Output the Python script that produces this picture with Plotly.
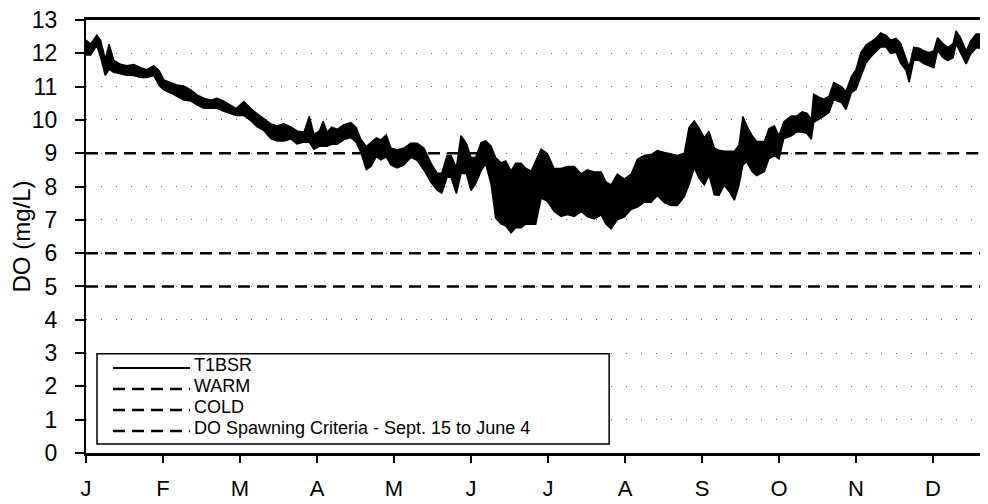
import plotly.graph_objects as go

# ---- data ----
month_labels = ["J", "F", "M", "A", "M", "J", "J", "A", "S", "O", "N", "D"]
month_ticks = list(range(12))

# sample positions in months since Jan 1
t_months = [0.00, 0.06, 0.14, 0.19, 0.25, 0.30, 0.36, 0.45, 0.53, 0.62, 0.71, 0.79, 0.88, 0.95,
            1.01, 1.10, 1.18, 1.27, 1.36, 1.44, 1.53, 1.62, 1.70, 1.79, 1.88, 1.95,
            2.05, 2.14, 2.22, 2.31, 2.40, 2.48, 2.57, 2.66, 2.74, 2.83, 2.90, 2.96,
            3.03, 3.08, 3.13, 3.19, 3.26, 3.35, 3.44, 3.51, 3.57, 3.64, 3.70, 3.77, 3.83, 3.90, 3.96,
            4.04, 4.13, 4.22, 4.30, 4.39, 4.48, 4.56, 4.62, 4.69, 4.74, 4.81, 4.87, 4.94,
            5.00, 5.06, 5.13, 5.19, 5.26, 5.32, 5.39, 5.45, 5.52, 5.58, 5.65, 5.71, 5.78, 5.84, 5.91, 5.99,
            6.08, 6.17, 6.25, 6.34, 6.43, 6.51, 6.60, 6.69, 6.75, 6.82, 6.90, 6.99,
            7.08, 7.16, 7.25, 7.34, 7.42, 7.51, 7.60, 7.68, 7.77, 7.83, 7.90, 7.96,
            8.03, 8.09, 8.16, 8.22, 8.29, 8.35, 8.42, 8.48, 8.53, 8.58, 8.65, 8.71, 8.81, 8.87, 8.94,
            9.00, 9.06, 9.16, 9.23, 9.30, 9.36, 9.42, 9.45, 9.52, 9.58, 9.65, 9.71, 9.81, 9.87, 9.94,
            10.00, 10.06, 10.13, 10.19, 10.26, 10.32, 10.39, 10.45, 10.52, 10.58, 10.65, 10.69, 10.75,
            10.82, 10.88, 10.95, 11.01, 11.06, 11.13, 11.19, 11.26, 11.30, 11.36, 11.43, 11.49, 11.56,
            11.65, 11.71]

# upper envelope of the T1BSR record (mg/L)
do_high = [12.40, 12.28, 12.54, 12.39, 11.82, 12.27, 11.79, 11.67, 11.63, 11.66, 11.57, 11.51, 11.63, 11.48,
           11.20, 11.11, 11.05, 11.02, 10.90, 10.75, 10.65, 10.59, 10.65, 10.56, 10.44, 10.34,
           10.55, 10.34, 10.19, 10.04, 9.88, 9.82, 9.88, 9.79, 9.67, 9.63, 10.11, 9.57,
           9.66, 9.96, 9.63, 9.78, 9.72, 9.86, 9.92, 9.77, 9.41, 9.20, 9.32, 9.46, 9.40, 9.55, 9.16,
           9.10, 9.16, 9.30, 9.30, 9.15, 8.70, 8.40, 8.40, 8.93, 8.93, 8.57, 9.53, 9.29,
           8.87, 8.87, 9.31, 9.37, 9.22, 8.86, 8.71, 8.77, 8.47, 8.70, 8.70, 8.55, 8.46, 8.76, 9.12, 8.99,
           8.54, 8.54, 8.60, 8.60, 8.38, 8.50, 8.44, 8.44, 8.14, 8.05, 8.37, 8.22,
           8.37, 8.82, 8.93, 8.96, 9.08, 9.02, 8.96, 8.93, 9.00, 9.76, 9.97, 9.76,
           9.46, 9.66, 9.15, 9.09, 9.06, 9.06, 9.06, 9.24, 10.10, 9.83, 9.53, 9.35, 9.35, 9.74, 9.82,
           9.52, 9.94, 10.12, 10.12, 10.24, 10.20, 10.02, 10.77, 10.68, 10.62, 10.71, 11.12, 11.00, 10.85, 11.30,
           11.51, 12.01, 12.25, 12.34, 12.46, 12.61, 12.54, 12.39, 12.45, 12.30, 11.88, 11.58, 12.18,
           12.15, 12.08, 12.02, 12.08, 12.47, 12.29, 12.17, 12.29, 12.67, 12.46, 12.07, 12.37, 12.58,
           12.58, 12.46]

# lower envelope of the T1BSR record (mg/L)
do_low = [11.95, 11.95, 12.24, 11.88, 11.34, 11.52, 11.43, 11.37, 11.34, 11.33, 11.27, 11.27, 11.33, 11.03,
          10.90, 10.81, 10.72, 10.60, 10.57, 10.45, 10.35, 10.35, 10.35, 10.26, 10.20, 10.13,
          10.13, 9.98, 9.80, 9.68, 9.44, 9.37, 9.37, 9.43, 9.28, 9.34, 9.33, 9.12,
          9.21, 9.21, 9.21, 9.27, 9.27, 9.41, 9.47, 9.32, 9.02, 8.51, 8.60, 8.90, 8.80, 8.89, 8.65,
          8.56, 8.65, 8.88, 8.79, 8.49, 8.13, 7.89, 7.80, 8.28, 8.28, 7.79, 8.39, 8.39,
          7.88, 8.09, 8.47, 8.68, 8.08, 7.06, 6.88, 6.82, 6.61, 6.76, 6.76, 6.87, 6.87, 6.87, 7.65, 7.56,
          7.25, 7.10, 7.16, 7.10, 7.25, 7.10, 7.03, 7.15, 6.88, 6.73, 7.00, 7.08,
          7.32, 7.38, 7.53, 7.53, 7.73, 7.52, 7.43, 7.43, 7.70, 8.05, 8.56, 8.26,
          8.05, 8.35, 7.75, 7.74, 8.04, 7.86, 7.59, 8.04, 8.64, 8.75, 8.45, 8.33, 8.45, 8.84, 8.93,
          8.83, 9.43, 9.52, 9.64, 9.64, 9.60, 9.42, 9.93, 10.02, 10.11, 10.23, 10.61, 10.52, 10.31, 10.82,
          10.91, 11.29, 11.71, 11.89, 12.04, 12.19, 12.19, 12.00, 12.03, 11.70, 11.49, 11.13, 11.79,
          11.79, 11.69, 11.63, 11.57, 12.08, 11.87, 11.78, 11.87, 12.28, 11.98, 11.68, 11.98, 12.16,
          12.16, 12.07]

warm_level = 5
cold_level = 6
spawn_level = 9
spawn_period_1 = [0.0, 5.1]     # Jan 1 - June 4
spawn_period_2 = [8.47, 12.0]   # Sept 15 - Dec 31
x_range = [0, 11.714]

legend_names = ["T1BSR", "WARM", "COLD", "DO Spawning Criteria - Sept. 15 to June 4"]
legend_dashes = ["solid", "12px,7px", "12px,7px", "12px,7px"]

FONT = "Liberation Sans, Arial, sans-serif"
DASH = "12px,7px"

fig = go.Figure()

fig.add_trace(go.Scatter(x=x_range, y=[warm_level] * 2, mode="lines", name="WARM",
                         line=dict(color="black", width=2.5, dash=DASH)))
fig.add_trace(go.Scatter(x=x_range, y=[cold_level] * 2, mode="lines", name="COLD",
                         line=dict(color="black", width=2.5, dash=DASH)))
fig.add_trace(go.Scatter(x=spawn_period_1, y=[spawn_level] * 2, mode="lines",
                         name=legend_names[3], line=dict(color="black", width=2.5, dash=DASH)))
fig.add_trace(go.Scatter(x=spawn_period_2, y=[spawn_level] * 2, mode="lines",
                         name=legend_names[3], line=dict(color="black", width=2.5, dash=DASH)))

fig.add_trace(go.Scatter(x=t_months, y=do_high, mode="lines", name="T1BSR",
                         line=dict(color="black", width=1.5)))
fig.add_trace(go.Scatter(x=t_months, y=do_low, mode="lines", name="T1BSR",
                         fill="tonexty", fillcolor="black",
                         line=dict(color="black", width=1.5)))

# ---- legend box (drawn in paper coordinates) ----
fig.add_shape(type="rect", xref="paper", yref="paper",
              x0=0.0122, x1=0.580, y0=0.021, y1=0.229,
              line=dict(color="black", width=1.5), fillcolor="white", layer="above")
line_y = [0.1963, 0.1478, 0.0993, 0.0508]
text_y = [0.2032, 0.1547, 0.1062, 0.0577]
for name, dash, ly, ty in zip(legend_names, legend_dashes, line_y, text_y):
    fig.add_shape(type="line", xref="paper", yref="paper", x0=0.0299, x1=0.1153, y0=ly, y1=ly,
                  line=dict(color="black", width=2 if dash == "solid" else 2.5, dash=dash),
                  layer="above")
    fig.add_annotation(xref="paper", yref="paper", x=0.1175, y=ty, xanchor="left", yanchor="middle",
                       text=name, showarrow=False,
                       font=dict(family=FONT, size=18, color="black"))

fig.update_layout(
    width=980, height=496,
    margin=dict(l=78, r=0, t=12, b=51),
    paper_bgcolor="white", plot_bgcolor="white",
    font=dict(family=FONT, color="black"),
    showlegend=False,
    xaxis=dict(range=x_range, tickvals=month_ticks, ticktext=month_labels,
               showgrid=False, zeroline=False, showline=True, linecolor="black", linewidth=3,
               mirror=True, ticks="outside", ticklen=7, tickwidth=1.5, tickcolor="black",
               ticklabelstandoff=7, ticklabeloverflow="allow",
               tickfont=dict(size=22, family=FONT, color="black")),
    yaxis=dict(range=[0, 13], dtick=1, tick0=0,
               title=dict(text="DO (mg/L)", font=dict(size=24, family=FONT, color="black"), standoff=4),
               showgrid=True, gridcolor="#666666", gridwidth=1, griddash="1px,14px",
               zeroline=False, showline=True, linecolor="black", linewidth=2,
               ticks="outside", ticklen=9, tickwidth=1.5, tickcolor="black",
               ticklabelstandoff=13, ticklabeloverflow="allow",
               tickfont=dict(size=23, family=FONT, color="black")),
)

fig.write_html("out.html")
